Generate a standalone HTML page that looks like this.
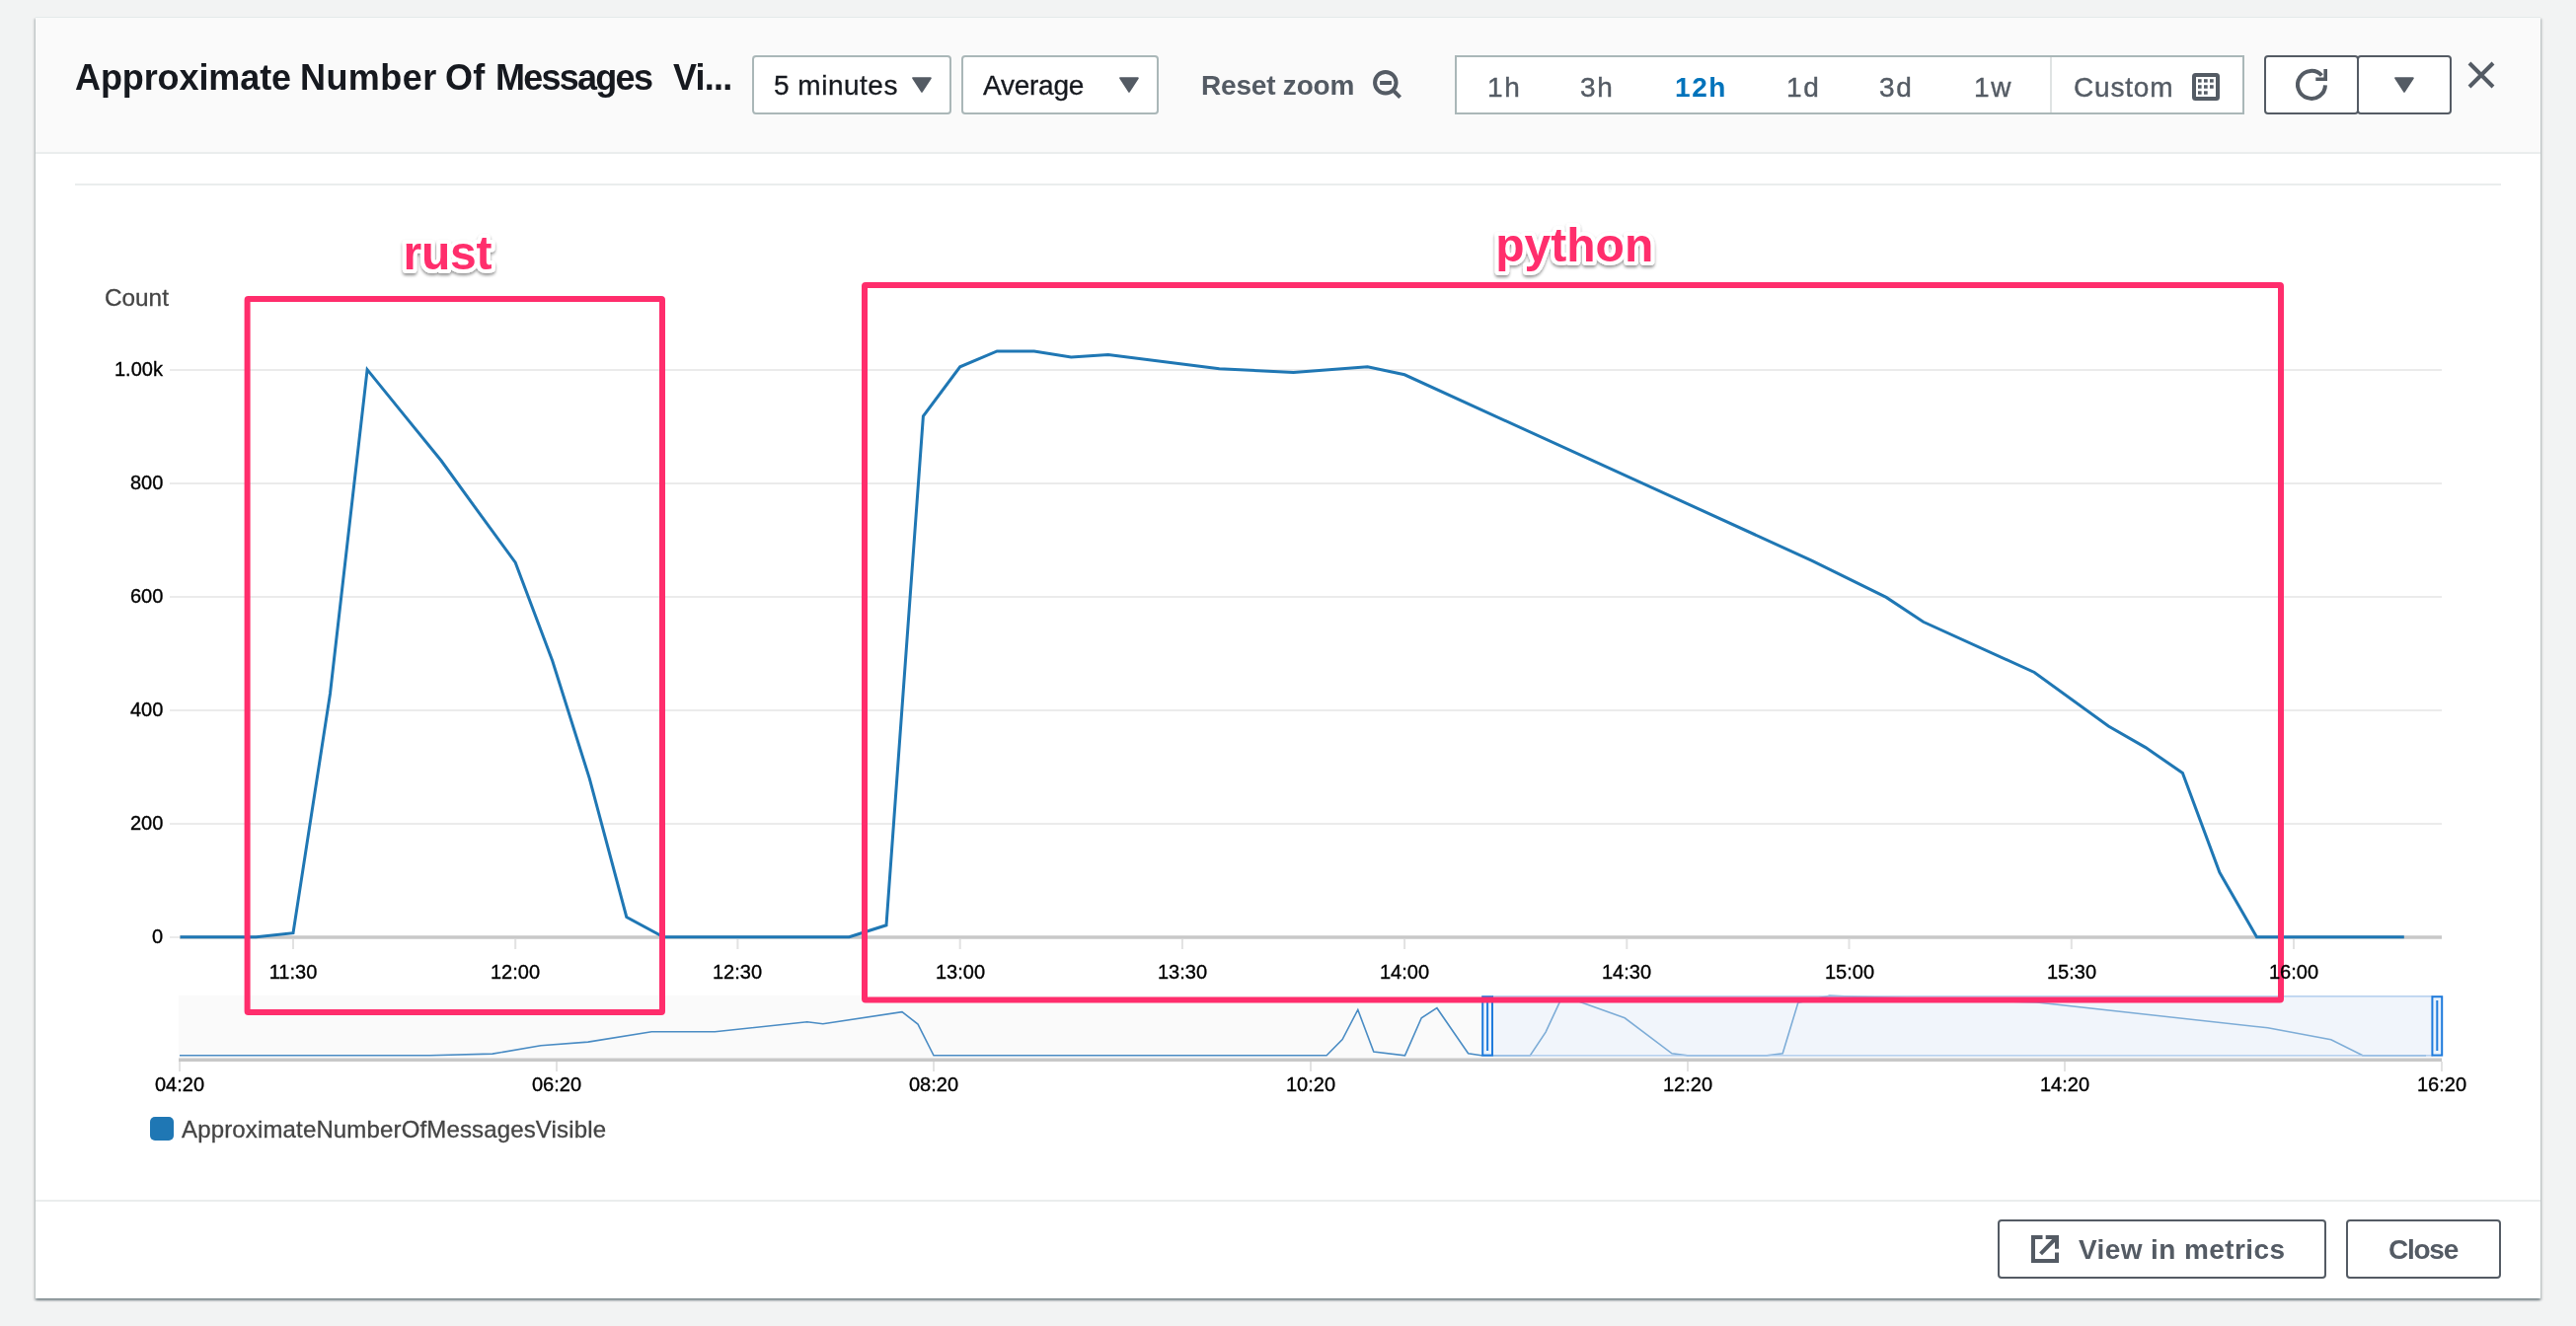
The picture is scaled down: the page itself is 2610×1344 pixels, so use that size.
<!DOCTYPE html>
<html>
<head>
<meta charset="utf-8">
<title>Approximate Number Of Messages Visible</title>
<style>
html,body{margin:0;padding:0;}
body{width:2610px;height:1344px;overflow:hidden;background:#f2f3f3;font-family:"Liberation Sans",sans-serif;position:relative;}
.abs{position:absolute;}
#modal{position:absolute;left:36px;top:17px;width:2538px;height:1299px;background:#fff;
 box-shadow:0 2px 2px 0 rgba(0,28,36,.36),2px 2px 2px 0 rgba(0,28,36,.11),-2px 2px 2px 0 rgba(0,28,36,.11);
 border-top:1px solid #e4e9e9;box-sizing:border-box;}
#header{position:absolute;left:36px;top:18px;width:2538px;height:136px;background:#fafafa;border-bottom:2px solid #eaeded;}
.t{position:absolute;white-space:nowrap;line-height:1;transform-origin:0 0;will-change:transform;}
.ttl{top:61px;font-size:36px;font-weight:bold;color:#16191f;}
.sel{position:absolute;top:56px;height:60px;box-sizing:border-box;border:2px solid #aab7b8;border-radius:4px;background:#fff;}
.btn{position:absolute;box-sizing:border-box;border:2px solid #545b64;border-radius:4px;background:#fff;}
.ctl{font-size:28px;color:#16191f;-webkit-text-stroke:0.3px #16191f;}
.seg{font-size:28px;color:#545b64;letter-spacing:1.6px;-webkit-text-stroke:0.4px #545b64;}
.tick{font-size:20px;color:#000;-webkit-text-stroke:0.35px #000;}
</style>
</head>
<body>
<div id="modal"></div>
<div id="header"></div>

<!-- title -->
<div class="t ttl" style="left:75.5px;letter-spacing:-0.1px;">Approximate</div>
<div class="t ttl" style="left:304px;letter-spacing:0.44px;">Number</div>
<div class="t ttl" style="left:451px;letter-spacing:0.3px;">Of</div>
<div class="t ttl" style="left:502px;letter-spacing:-1.74px;">Messages</div>
<div class="t ttl" style="left:682px;letter-spacing:-0.8px;">Vi...</div>

<!-- selects -->
<div class="sel" style="left:762px;width:202px;"></div>
<div class="t ctl" style="left:784px;top:73px;letter-spacing:0.5px;">5 minutes</div>
<svg class="abs" style="left:924px;top:78px;" width="20" height="16" viewBox="0 0 20 16"><path d="M1.2 1.2 L18.8 1.2 L10 14.8 Z" fill="#545b64" stroke="#545b64" stroke-width="2" stroke-linejoin="round"/></svg>

<div class="sel" style="left:974px;width:200px;"></div>
<div class="t ctl" style="left:996px;top:73px;letter-spacing:-0.25px;">Average</div>
<svg class="abs" style="left:1134px;top:78px;" width="20" height="16" viewBox="0 0 20 16"><path d="M1.2 1.2 L18.8 1.2 L10 14.8 Z" fill="#545b64" stroke="#545b64" stroke-width="2" stroke-linejoin="round"/></svg>

<!-- reset zoom -->
<div class="t" style="left:1217px;top:73px;font-size:28px;font-weight:bold;color:#545b64;letter-spacing:-0.2px;">Reset zoom</div>
<svg class="abs" style="left:1388px;top:68px;" width="36" height="36" viewBox="0 0 36 36" fill="none" stroke="#545b64" stroke-width="4"><circle cx="15.8" cy="15.75" r="10.75"/><path d="M23.4 23.35 L30.6 30.55"/><path d="M10.1 16 H21.9"/></svg>

<!-- time range segment -->
<div class="abs" style="left:1474px;top:56px;width:800px;height:60px;box-sizing:border-box;border:2px solid #aab7b8;background:#fff;"></div>
<div class="abs" style="left:2077px;top:58px;width:2px;height:56px;background:#dfe3e3;"></div>
<div class="t seg" style="left:1507px;top:75px;">1h</div>
<div class="t seg" style="left:1601px;top:75px;">3h</div>
<div class="t seg" style="left:1697px;top:75px;font-weight:bold;color:#0073bb;-webkit-text-stroke:0;">12h</div>
<div class="t seg" style="left:1810px;top:75px;">1d</div>
<div class="t seg" style="left:1904px;top:75px;">3d</div>
<div class="t seg" style="left:2000px;top:75px;">1w</div>
<div class="t seg" style="left:2101px;top:75px;letter-spacing:0.8px;">Custom</div>
<svg class="abs" style="left:2221px;top:74px;" width="28" height="28" viewBox="0 0 28 28"><rect x="2" y="2" width="24" height="24" rx="1.5" fill="#fff" stroke="#545b64" stroke-width="4"/><g fill="#545b64"><rect x="6" y="6.2" width="3.6" height="3.4"/><rect x="12" y="6.2" width="3.7" height="3.4"/><rect x="18" y="6.2" width="3.7" height="3.4"/><rect x="6" y="12.2" width="3.6" height="3.5"/><rect x="12" y="12.2" width="3.7" height="3.5"/><rect x="18" y="12.2" width="3.7" height="3.5"/><rect x="6" y="18.3" width="3.6" height="3.4"/><rect x="12" y="18.3" width="3.7" height="3.4"/></g></svg>

<!-- refresh / dropdown buttons -->
<div class="btn" style="left:2294px;top:56px;width:96px;height:60px;"></div>
<div class="btn" style="left:2388px;top:56px;width:96px;height:60px;"></div>
<svg class="abs" style="left:2322px;top:66px;" width="40" height="40" viewBox="0 0 40 40" fill="none" stroke="#545b64" stroke-width="4"><path d="M30.4 10.48 A14 14 0 1 0 33.99 20.34"/><path d="M34.2 4 V14.2 H24.3" stroke-width="3.6"/></svg>
<svg class="abs" style="left:2426px;top:78px;" width="20" height="16" viewBox="0 0 20 16"><path d="M1.2 1.2 L18.8 1.2 L10 14.8 Z" fill="#545b64" stroke="#545b64" stroke-width="2" stroke-linejoin="round"/></svg>

<!-- close X -->
<svg class="abs" style="left:2499px;top:61px;" width="30" height="30" viewBox="0 0 30 30" stroke="#545b64" stroke-width="4" fill="none"><path d="M3 3 L27 27 M27 3 L3 27"/></svg>

<!-- hr -->
<div class="abs" style="left:76px;top:186px;width:2458px;height:2px;background:#eaeded;"></div>

<!-- CHART -->
<svg class="abs" style="left:0;top:0;" width="2610" height="1344" viewBox="0 0 2610 1344">
  <!-- gridlines -->
  <g stroke="#ebebeb" stroke-width="2">
    <path d="M172 375 H2474 M172 490 H2474 M172 605 H2474 M172 720 H2474 M172 835 H2474 M172 950 H2474"/>
  </g>
  <!-- x axis -->
  <path d="M182 950 H2474" stroke="#c8c8c8" stroke-width="3.4"/>
  <g stroke="#e2e2e2" stroke-width="2">
    <path d="M297 952 V962 M522.2 952 V962 M747.4 952 V962 M972.7 952 V962 M1197.9 952 V962 M1423.1 952 V962 M1648.3 952 V962 M1873.5 952 V962 M2098.8 952 V962 M2324 952 V962"/>
  </g>
  <!-- main line -->
  <polyline fill="none" stroke="#1f77b4" stroke-width="3" stroke-linejoin="miter" points="182.6,949.8 259.5,949.8 297,945.7 334.5,703 372.1,374.6 409.6,420.9 447.1,467 484.7,518.9 522.2,570.2 559.7,669.7 597.3,789.1 634.8,929.5 672.3,949.8 860.4,949.8 898,937.8 935.4,421.9 972.7,371.8 1010.2,355.9 1047.8,355.9 1085.3,361.9 1122.8,359.5 1235.4,373.8 1310.5,377.5 1385.6,371.8 1423.1,379.8 1836,568.3 1911.1,605.4 1948.6,630.3 2061.2,681.5 2136.3,736 2173.9,757.6 2211.4,783.5 2248.9,884.3 2286.5,949.8 2435.8,949.8"/>

  <!-- mini chart -->
  <rect x="181" y="1009" width="2293" height="64" fill="#fafafa"/>
  <path d="M181 1074.3 H2474" stroke="#c8c8c8" stroke-width="3.6"/>
  <g stroke="#e2e2e2" stroke-width="2">
    <path d="M182 1076 V1086 M564 1076 V1086 M946 1076 V1086 M1328 1076 V1086 M1710 1076 V1086 M2092 1076 V1086 M2474 1076 V1086"/>
  </g>
  <polyline fill="none" stroke="#4a8cc4" stroke-width="1.6" points="182,1069.8 435.5,1069.8 499,1068.1 548,1059.8 595.8,1056.1 660.2,1045.8 724.3,1045.8 817.8,1035.8 833.8,1037.8 914,1025.7 930,1038.1 946,1069.8 1344.1,1069.8 1360.1,1053.5 1375.8,1023.4 1391.8,1066.1 1423.5,1069.8 1440.2,1031.8 1455.9,1021.7 1487.6,1067.8 1501,1069.8 1550.4,1069.8 1566.1,1046.1 1582,1012 1598,1014.5 1646.2,1031.8 1694,1067.8 1709.7,1069.8 1790.2,1069.8 1806.2,1067.8 1821.9,1016.1 1853.6,1009.4 2064,1016 2297.7,1041.8 2361.8,1053.8 2393.8,1069.8 2458,1069.8"/>
  <!-- brush selection -->
  <rect x="1512" y="1009.6" width="953" height="60.6" fill="rgb(224,236,253)" fill-opacity="0.35"/>
  <path d="M1512 1009.9 H2465 M1512 1069.9 H2465" stroke="#a6c6ec" stroke-width="1.4" fill="none"/>
  <rect x="1502.2" y="1010.2" width="9.8" height="59.4" fill="#eaf3fd" stroke="#1f7bdc" stroke-width="2"/>
  <path d="M1507.1 1014 V1065" stroke="#1f7bdc" stroke-width="2"/>
  <rect x="2464.4" y="1010.2" width="9.8" height="59.4" fill="#eaf3fd" stroke="#1f7bdc" stroke-width="2"/>
  <path d="M2469.3 1014 V1065" stroke="#1f7bdc" stroke-width="2"/>

  <!-- legend swatch -->
  <rect x="152" y="1132" width="24" height="24" rx="5" fill="#1f77b4"/>

  <!-- annotation boxes -->
  <rect x="250.6" y="303" width="420.4" height="723" rx="1" fill="none" stroke="#ff2d6c" stroke-width="6"/>
  <rect x="876" y="289" width="1435" height="724.5" rx="1" fill="none" stroke="#ff2d6c" stroke-width="6"/>
</svg>

<!-- y labels -->
<div class="t" style="left:106px;top:291px;font-size:23.5px;color:#444;transform:scaleX(1.035);-webkit-text-stroke:0.3px #444;">Count</div>
<div class="t tick" style="right:2445px;top:364px;">1.00k</div>
<div class="t tick" style="right:2445px;top:479px;">800</div>
<div class="t tick" style="right:2445px;top:594px;">600</div>
<div class="t tick" style="right:2445px;top:709px;">400</div>
<div class="t tick" style="right:2445px;top:824px;">200</div>
<div class="t tick" style="right:2445px;top:939px;">0</div>

<!-- x labels -->
<div class="t tick xl" style="left:297px;top:975px;transform:translateX(-50%);">11:30</div>
<div class="t tick xl" style="left:522px;top:975px;transform:translateX(-50%);">12:00</div>
<div class="t tick xl" style="left:747px;top:975px;transform:translateX(-50%);">12:30</div>
<div class="t tick xl" style="left:973px;top:975px;transform:translateX(-50%);">13:00</div>
<div class="t tick xl" style="left:1198px;top:975px;transform:translateX(-50%);">13:30</div>
<div class="t tick xl" style="left:1423px;top:975px;transform:translateX(-50%);">14:00</div>
<div class="t tick xl" style="left:1648px;top:975px;transform:translateX(-50%);">14:30</div>
<div class="t tick xl" style="left:1874px;top:975px;transform:translateX(-50%);">15:00</div>
<div class="t tick xl" style="left:2099px;top:975px;transform:translateX(-50%);">15:30</div>
<div class="t tick xl" style="left:2324px;top:975px;transform:translateX(-50%);">16:00</div>

<!-- mini x labels -->
<div class="t tick" style="left:182px;top:1089px;transform:translateX(-50%);">04:20</div>
<div class="t tick" style="left:564px;top:1089px;transform:translateX(-50%);">06:20</div>
<div class="t tick" style="left:946px;top:1089px;transform:translateX(-50%);">08:20</div>
<div class="t tick" style="left:1328px;top:1089px;transform:translateX(-50%);">10:20</div>
<div class="t tick" style="left:1710px;top:1089px;transform:translateX(-50%);">12:20</div>
<div class="t tick" style="left:2092px;top:1089px;transform:translateX(-50%);">14:20</div>
<div class="t tick" style="left:2474px;top:1089px;transform:translateX(-50%);">16:20</div>

<!-- legend -->
<div class="t" style="left:184px;top:1133px;font-size:24px;color:#444;letter-spacing:0.15px;-webkit-text-stroke:0.3px #444;">ApproximateNumberOfMessagesVisible</div>

<!-- annotation text -->
<svg class="abs" style="left:0;top:190px;" width="2610" height="120" viewBox="0 190 2610 120">
  <defs><filter id="sh" x="-10%" y="-30%" width="120%" height="170%"><feDropShadow dx="0" dy="2.2" stdDeviation="1.4" flood-color="#000" flood-opacity="0.42"/></filter></defs>
  <g filter="url(#sh)" font-family="Liberation Sans, sans-serif" font-weight="bold" font-size="48">
    <g fill="#fff" stroke="#fff" stroke-width="8" stroke-linejoin="round">
      <text x="408.6" y="272.8" letter-spacing="-0.3">rust</text>
      <text x="1515.3" y="264.7">python</text>
    </g>
    <g fill="#ff2d6c">
      <text x="408.6" y="272.8" letter-spacing="-0.3">rust</text>
      <text x="1515.3" y="264.7">python</text>
    </g>
  </g>
</svg>

<!-- footer -->
<div class="abs" style="left:36px;top:1216px;width:2538px;height:2px;background:#eaeded;"></div>
<div class="btn" style="left:2024px;top:1236px;width:333px;height:60px;"></div>
<svg class="abs" style="left:2058px;top:1252px;" width="28" height="28" viewBox="0 0 28 28" fill="none" stroke="#545b64" stroke-width="4"><path d="M11.5 2 H2 V26 H26 V17.5"/><path d="M14.7 2 H26 V13.7"/><path d="M25.5 2.5 L9.6 18.8"/></svg>
<div class="t" style="left:2106px;top:1253px;font-size:28px;font-weight:bold;color:#545b64;letter-spacing:0.4px;">View in metrics</div>
<div class="btn" style="left:2377px;top:1236px;width:157px;height:60px;"></div>
<div class="t" style="left:2420px;top:1253px;font-size:28px;font-weight:bold;color:#545b64;letter-spacing:-1.25px;">Close</div>

</body>
</html>
